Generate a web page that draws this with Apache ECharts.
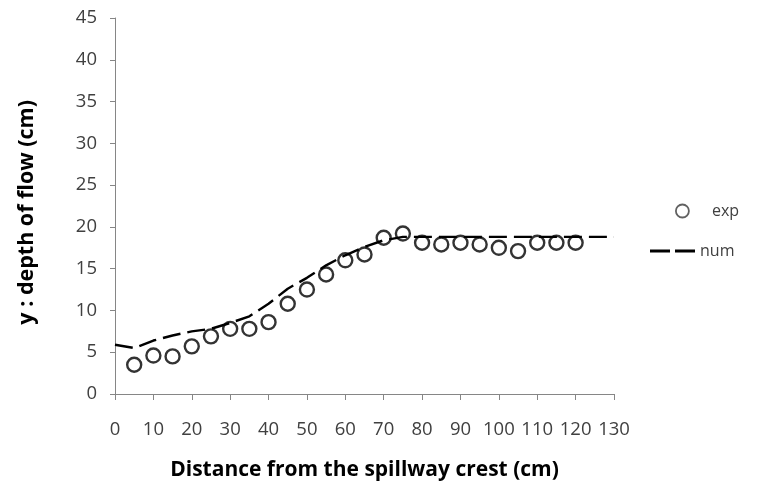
<!DOCTYPE html>
<html>
<head>
<meta charset="utf-8">
<script src="https://cdn.jsdelivr.net/npm/echarts@6/dist/echarts.min.js"></script>
<style>
  html, body { margin: 0; padding: 0; background: #fff; }
  #chart { width: 757px; height: 486px; }
</style>
</head>
<body>
<div id="chart"></div>
<script>
// Experimental depth of flow along the spillway (cm)
const expX = [5, 10, 15, 20, 25, 30, 35, 40, 45, 50, 55, 60, 65, 70, 75, 80, 85, 90, 95, 100, 105, 110, 115, 120];
const expY = [3.5, 4.6, 4.5, 5.7, 6.9, 7.8, 7.8, 8.6, 10.8, 12.5, 14.3, 16.0, 16.7, 18.7, 19.2, 18.1, 17.9, 18.1, 17.9, 17.5, 17.1, 18.1, 18.1, 18.1];

// Numerical profile
const numX = [0, 5, 10, 15, 20, 25, 30, 35, 40, 45, 50, 55, 60, 65, 70, 75, 80, 90, 100, 110, 120, 130];
const numY = [5.9, 5.5, 6.4, 7.0, 7.5, 7.8, 8.5, 9.3, 10.8, 12.6, 13.9, 15.4, 16.6, 17.6, 18.4, 18.8, 18.8, 18.8, 18.8, 18.8, 18.8, 18.8];

const xTicks = { min: 0, max: 130, step: 10 };
const yTicks = { min: 0, max: 45, step: 5 };

const xTitle = 'Distance from the spillway crest (cm)';
const yTitle = 'y : depth of flow (cm)';

const font = '"Open Sans", "Liberation Sans", sans-serif';
const axisColor = '#868686';
const textColor = '#404040';

const chart = echarts.init(document.getElementById('chart'));
chart.setOption({
  animation: false,
  backgroundColor: '#ffffff',
  grid: { left: 115, right: 143, top: 18, bottom: 88, containLabel: false },
  xAxis: {
    type: 'value',
    min: xTicks.min, max: xTicks.max, interval: xTicks.step,
    axisLine: { lineStyle: { color: axisColor, width: 1 } },
    axisTick: { show: true, length: 6, lineStyle: { color: axisColor } },
    splitLine: { show: false },
    axisLabel: { color: textColor, fontFamily: font, fontSize: 18.5, margin: 26 },
    name: xTitle,
    nameLocation: 'middle',
    nameGap: 66,
    nameTextStyle: { color: '#000', fontFamily: font, fontSize: 21, fontWeight: 'bold' }
  },
  yAxis: {
    type: 'value',
    min: yTicks.min, max: yTicks.max, interval: yTicks.step,
    axisLine: { show: true, lineStyle: { color: axisColor, width: 1 } },
    axisTick: { show: true, length: 5, lineStyle: { color: axisColor } },
    splitLine: { show: false },
    axisLabel: { color: textColor, fontFamily: font, fontSize: 18.5, margin: 18 }
  },
  graphic: [{
    type: 'text',
    left: 16,
    top: 100,
    rotation: Math.PI / 2,
    style: {
      text: yTitle,
      fill: '#000',
      font: 'bold 21.5px ' + font
    }
  }],
  legend: [{
    data: [{
      name: 'exp',
      icon: 'circle',
      itemStyle: { color: '#ffffff', borderColor: '#3a3a3a', borderWidth: 1.8 }
    }],
    left: 670, top: 198,
    itemWidth: 13, itemHeight: 13,
    textStyle: { color: textColor, fontFamily: font, fontSize: 16, padding: [0, 0, 0, 18] }
  }, {
    data: [{
      name: 'num',
      icon: 'path://M0,0 H20 V3 H0 Z M25,0 H45 V3 H25 Z',
      itemStyle: { color: '#000' }
    }],
    left: 645, top: 238,
    itemWidth: 45, itemHeight: 3,
    itemGap: 0,
    textStyle: { color: textColor, fontFamily: font, fontSize: 16 }
  }],
  series: [{
    name: 'num',
    type: 'line',
    data: numX.map((x, i) => [x, numY[i]]),
    showSymbol: false,
    symbol: 'none',
    smooth: false,
    lineStyle: { color: '#000', width: 2.4, type: [18, 7] },
    itemStyle: { color: '#000' },
    z: 3
  }, {
    name: 'exp',
    type: 'scatter',
    data: expX.map((x, i) => [x, expY[i]]),
    symbol: 'circle',
    symbolSize: 14,
    itemStyle: { color: 'rgba(0,0,0,0)', borderColor: '#000', borderWidth: 2.4 },
    z: 4
  }]
});
</script>
</body>
</html>
